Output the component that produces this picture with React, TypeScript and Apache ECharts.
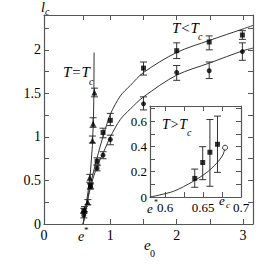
import React, { useEffect, useRef } from "react";
import * as echarts from "echarts";

// ---- data ----
const E_STAR = 0.59;
// T<Tc, upper branch (squares): [e0, lc, low, high]
const upperPts = [
  [0.6, 0.15, 0.12, 0.18],
  [0.7, 0.44, 0.41, 0.47],
  [0.8, 0.72, 0.68, 0.76],
  [0.89, 1.05, 0.99, 1.1],
  [1.0, 1.19, 1.13, 1.27],
  [1.5, 1.79, 1.71, 1.86],
  [2.0, 1.99, 1.9, 2.08],
  [2.49, 2.09, 2.0, 2.16],
  [2.99, 2.17, 2.12, 2.22],
];
// T<Tc, lower branch (circles)
const lowerPts = [
  [0.6, 0.1, 0.07, 0.13],
  [0.7, 0.43, 0.4, 0.46],
  [0.8, 0.64, 0.61, 0.67],
  [0.89, 0.79, 0.75, 0.83],
  [1.0, 0.97, 0.91, 1.02],
  [1.5, 1.38, 1.31, 1.46],
  [2.0, 1.74, 1.65, 1.82],
  [2.49, 1.76, 1.67, 1.86],
  [2.99, 1.98, 1.88, 2.08],
];
// T=Tc (triangles)
const tcPts = [
  [0.61, 0.17, 0.14, 0.2],
  [0.66, 0.25, 0.22, 0.28],
  [0.69, 0.53, 0.48, 0.57],
  [0.73, 0.96, 0.93, 1.01],
  [0.74, 1.15, 1.11, 1.22],
  [0.76, 1.51, 1.46, 1.56],
];
const upperCurve = [
  [0.59, 0], [0.7, 0.45], [0.8, 0.76], [0.9, 1.03], [1.0, 1.26], [1.15, 1.47],
  [1.3, 1.59], [1.5, 1.74], [2.0, 1.97], [2.5, 2.11], [3.0, 2.24], [3.15, 2.28],
];
const lowerCurve = [
  [0.59, 0], [0.7, 0.42], [0.8, 0.66], [0.9, 0.83], [1.0, 1.0], [1.15, 1.2],
  [1.3, 1.32], [1.5, 1.46], [2.0, 1.71], [2.5, 1.85], [3.0, 1.99], [3.15, 2.02],
];
const tcCurve = [
  [0.59, 0], [0.69, 0.5], [0.73, 0.9], [0.745, 1.2], [0.752, 1.5], [0.755, 1.97],
];
// inset (T>Tc)
const insetPts = [
  [0.639, 0.147, 0.077, 0.221],
  [0.6495, 0.273, 0.137, 0.398],
  [0.659, 0.354, 0.085, 0.613],
  [0.669, 0.417, 0.195, 0.64],
];
const insetOpen = [[0.679, 0.39]];
const insetCurve = [
  [0.58, 0], [0.611, 0.045], [0.637, 0.124], [0.655, 0.195], [0.668, 0.268],
  [0.676, 0.333], [0.679, 0.39],
];
const mainXTicks = [E_STAR, 1, 1.5, 2, 2.5, 3];
const mainXLabels = [0, 1, 2, 3];
const mainYTicks = [0, 0.25, 0.5, 0.75, 1, 1.25, 1.5, 1.75, 2, 2.25];
const mainYLabels = [0, 0.5, 1, 1.5, 2];
const insetXTicks = [0.6, 0.625, 0.65, 0.675];
const insetXLabels = [0.6, 0.65, 0.7];
const insetYTicks = [0.1, 0.2, 0.3, 0.4, 0.5, 0.6, 0.7];
const insetYLabels = [0, 0.2, 0.4, 0.6];

const SERIF = "Liberation Serif";
const AXC = "#555";

function errBars(data: number[][], xi: number, yi: number) {
  return {
    type: "custom",
    xAxisIndex: xi,
    yAxisIndex: yi,
    data: data.map((d) => [d[0], d[2], d[3]]),
    z: 3,
    renderItem: (params: any, api: any) => {
      const x = api.value(0);
      const lo = api.coord([x, api.value(1)]);
      const hi = api.coord([x, api.value(2)]);
      const w = 3.5;
      const st = { stroke: "#333", lineWidth: 1 };
      return {
        type: "group",
        children: [
          { type: "line", shape: { x1: lo[0], y1: lo[1], x2: hi[0], y2: hi[1] }, style: st },
          { type: "line", shape: { x1: lo[0] - w, y1: lo[1], x2: lo[0] + w, y2: lo[1] }, style: st },
          { type: "line", shape: { x1: hi[0] - w, y1: hi[1], x2: hi[0] + w, y2: hi[1] }, style: st },
        ],
      };
    },
  };
}

function txt(x: number, y: number, s: string, size: number, italic = true) {
  return {
    type: "text",
    x,
    y,
    z: 100,
    style: {
      text: s,
      fill: "#000",
      font: `${italic ? "italic " : ""}${size}px "Liberation Serif", serif`,
      textAlign: "left",
      textVerticalAlign: "middle",
    },
  };
}

function axisPair(grid: number, min: number, max: number, ticks: number[], labels: number[], isX: boolean, size: number, margin: number) {
  const base = {
    gridIndex: grid,
    type: "value",
    min,
    max,
    splitLine: { show: false },
    axisLine: { show: true, onZero: false, lineStyle: { color: AXC, width: 1.2 } },
    axisTick: { show: true, inside: true, length: 5, customValues: ticks, lineStyle: { color: AXC } },
  };
  return [
    {
      ...base,
      position: isX ? "bottom" : "left",
      axisLabel: {
        show: true,
        customValues: labels,
        margin,
        color: "#000",
        fontFamily: SERIF,
        fontSize: size,
        formatter: (v: number) => "{n|" + String(v) + "}",
        rich: { n: { fontFamily: SERIF, fontSize: size, color: "#000", fontWeight: "normal" } },
      },
    },
    { ...base, position: isX ? "top" : "right", axisLabel: { show: false } },
  ];
}

export default function App() {
  const ref = useRef<HTMLDivElement>(null);
  useEffect(() => {
    if (!ref.current) return;
    const chart = echarts.init(ref.current, null, { renderer: "svg" });
    const lineS = (data: number[][], xi: number, yi: number) => ({
      type: "line",
      xAxisIndex: xi,
      yAxisIndex: yi,
      data,
      showSymbol: false,
      smooth: 0.3,
      lineStyle: { color: "#333", width: 1 },
      z: 2,
    });
    const scat = (data: number[][], xi: number, yi: number, symbol: string, size: number, fill = "#000") => ({
      type: "scatter",
      xAxisIndex: xi,
      yAxisIndex: yi,
      data: data.map((d) => [d[0], d[1]]),
      symbol,
      symbolSize: size,
      itemStyle: { color: fill, borderColor: "#000", borderWidth: fill === "#000" ? 0 : 1 },
      z: 4,
    });
    const mx = axisPair(0, 0, 3.15, mainXTicks, mainXLabels, true, 14, 4);
    const my = axisPair(0, 0, 2.4, mainYTicks, mainYLabels, false, 14, 3);
    const ix = axisPair(1, 0.58, 0.7, insetXTicks, insetXLabels, true, 13, 4);
    const iy = axisPair(1, 0, 0.72, insetYTicks, insetYLabels, false, 13, 3);
    chart.setOption({
      animation: false,
      backgroundColor: "#fff",
      textStyle: { fontFamily: SERIF },
      grid: [
        { left: 44, top: 15, width: 209, height: 209, show: false },
        { left: 150, top: 106, width: 91, height: 91, show: true, backgroundColor: "#fff", borderWidth: 0, z: 5 },
      ],
      xAxis: [...mx, ...ix.map((a: any) => ({ ...a, z: 6 }))],
      yAxis: [...my, ...iy.map((a: any) => ({ ...a, z: 6 }))],
      series: [
        lineS(upperCurve, 0, 0),
        lineS(lowerCurve, 0, 0),
        { ...lineS(tcCurve, 0, 0), smooth: false },
        errBars(upperPts, 0, 0),
        errBars(lowerPts, 0, 0),
        errBars(tcPts, 0, 0),
        scat(upperPts, 0, 0, "rect", 5),
        scat(lowerPts, 0, 0, "circle", 5),
        scat(tcPts, 0, 0, "triangle", 6),
        { ...lineS(insetCurve, 2, 2), z: 7 },
        { ...errBars(insetPts, 2, 2), z: 7 },
        { ...scat(insetPts, 2, 2, "rect", 5), z: 8 },
        { ...scat(insetOpen, 2, 2, "circle", 5, "#fff"), z: 8 },
      ],
      graphic: [
        txt(41, 7, "l", 14),
        txt(45, 11, "c", 10),
        txt(144, 245, "e", 15),
        txt(150, 253, "0", 10, false),
        txt(78, 236, "e", 14),
        txt(84, 230, "*", 9, false),
        txt(63, 72, "T=T", 15),
        txt(89, 81, "c", 10),
        txt(172, 28, "T<T", 15),
        txt(198, 36, "c", 10),
        txt(162, 124, "T>T", 14),
        txt(187, 132, "c", 10),
        txt(147, 208, "e", 13),
        txt(154, 202, "*", 8, false),
        txt(219, 200, "e", 13),
        txt(226, 205, "c", 9),
      ],
    });
    return () => chart.dispose();
  }, []);
  return <div ref={ref} style={{ position: "fixed", left: 0, top: 0, width: 270, height: 270 }} />;
}
